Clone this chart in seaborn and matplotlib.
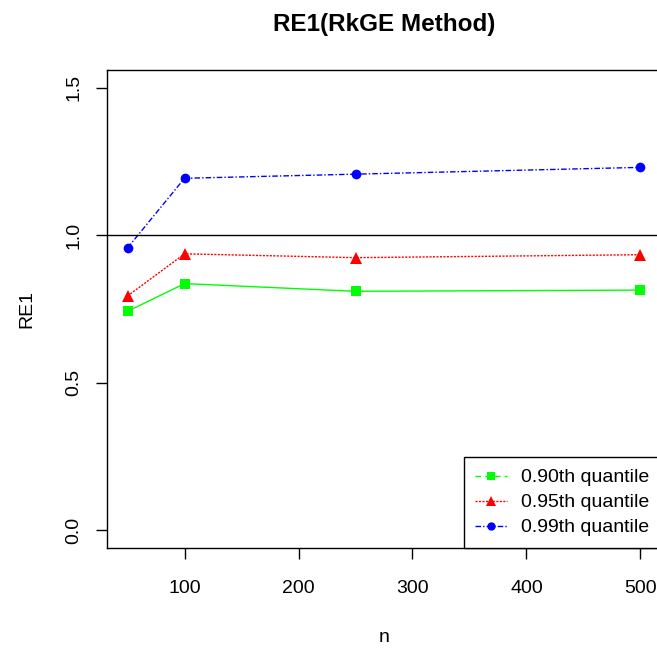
import matplotlib
matplotlib.use("Agg")
import matplotlib.pyplot as plt
from matplotlib.lines import Line2D
import seaborn as sns
import pandas as pd

# Sample sizes and relative efficiencies for each quantile
n_values = [50, 100, 250, 500]
re_q90 = [0.742, 0.836, 0.810, 0.814]
re_q95 = [0.794, 0.937, 0.924, 0.934]
re_q99 = [0.957, 1.193, 1.207, 1.230]
series_labels = ["0.90th quantile", "0.95th quantile", "0.99th quantile"]
x_ticks = [100, 200, 300, 400, 500]
y_ticks = [0.0, 0.5, 1.0, 1.5]

sns.set_style("white")
plt.rcParams["font.family"] = ["Liberation Sans", "DejaVu Sans"]
plt.rcParams["text.color"] = "black"
plt.rcParams["axes.labelcolor"] = "black"

fig = plt.figure(figsize=(6.57, 6.48), dpi=100)
W, H = 657, 648
ax = fig.add_axes([107 / W, 1 - 548 / H, 554 / W, 478 / H])

styles = [
    dict(values=re_q90, color="#00ff00", marker="s", ls="-", ms=7, leg_ls=(0, (4, 3))),
    dict(values=re_q95, color="#ff0000", marker="^", ls=(0, (1.5, 1)), ms=8, leg_ls=(0, (1.5, 1))),
    dict(values=re_q99, color="#0000ff", marker="o", ls=(0, (4, 1.5, 1, 1.5)), ms=7, leg_ls=(0, (4, 1.5, 1, 1.5))),
]

for st, lab in zip(styles, series_labels):
    df = pd.DataFrame({"n": n_values, "RE1": st["values"]})
    sns.lineplot(data=df, x="n", y="RE1", ax=ax, color=st["color"],
                 linestyle=st["ls"], linewidth=1.0, marker=st["marker"],
                 markersize=st["ms"], markeredgewidth=0, label=lab, legend=False)

ax.axhline(1.0, color="black", linewidth=1.0)

ax.set_xlim(32, 518)
ax.set_ylim(-0.06, 1.56)
ax.set_xticks(x_ticks)
ax.set_yticks(y_ticks)
ax.set_xticklabels([str(v) for v in x_ticks])
ax.set_yticklabels([f"{v:.1f}" for v in y_ticks], rotation=90, va="center")

for sp in ax.spines.values():
    sp.set_visible(True)
    sp.set_color("black")
    sp.set_linewidth(1.0)

ax.tick_params(axis="both", which="major", direction="out", length=8,
               width=1.0, color="black", labelsize=14, labelcolor="black",
               bottom=True, left=True)
ax.tick_params(axis="x", pad=15)
ax.tick_params(axis="y", pad=9.5)

ax.set_xlabel("n", fontsize=14, labelpad=23)
ax.set_ylabel("RE1", fontsize=14, labelpad=22)
ax.set_title("RE1(RkGE Method)", fontsize=17.5, fontweight="bold", pad=28)

handles = [
    Line2D([0], [0], color=st["color"], linestyle=st["leg_ls"], linewidth=1.0,
           marker=st["marker"], markersize=st["ms"] - 1, markeredgewidth=0)
    for st in styles
]
leg = ax.legend(handles, series_labels, loc="lower right", borderaxespad=0,
                fontsize=14, frameon=True, fancybox=False, edgecolor="black",
                framealpha=1, handlelength=1.6, handletextpad=0.75,
                labelspacing=0.38, borderpad=0.6)
leg.get_frame().set_linewidth(1.0)

fig.savefig("out.png", dpi=100)
